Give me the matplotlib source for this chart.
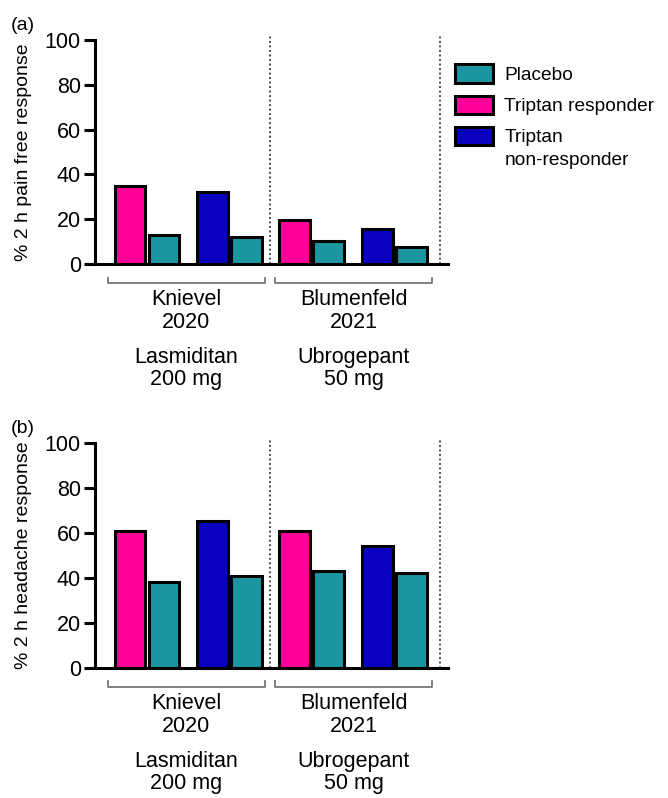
import matplotlib
matplotlib.use('Agg')
import matplotlib.pyplot as plt
from matplotlib.patches import Patch
from matplotlib.transforms import blended_transform_factory

plt.rcParams['font.family'] = ['Liberation Sans', 'DejaVu Sans']

# bar order inside each study: triptan responder, placebo, triptan non-responder, placebo
bar_groups = ['Triptan responder', 'Placebo', 'Triptan non-responder', 'Placebo',
              'Triptan responder', 'Placebo', 'Triptan non-responder', 'Placebo']
pain_free = [35, 13, 32, 12, 19.5, 10.5, 15.5, 7.5]
headache = [61, 38, 65.5, 41, 61, 43, 54, 42]

studies = ['Knievel\n2020', 'Blumenfeld\n2021']
drugs = ['Lasmiditan\n200 mg', 'Ubrogepant\n50 mg']
ylabels = ['% 2 h pain free response', '% 2 h headache response']
panel_tags = ['(a)', '(b)']

colors = {'Placebo': '#1b96a0', 'Triptan responder': '#ff0098', 'Triptan non-responder': '#0a00bf'}

x_pos = [0, 1, 2.42, 3.42, 4.83, 5.83, 7.28, 8.28]
dividers = [4.12, 9.12]
bracket_spans = [(-0.65, 3.97), (4.26, 8.88)]

fig = plt.figure(figsize=(6.68, 7.98), dpi=100)
ax_a = fig.add_axes([0.142, 0.669, 0.529, 0.281])
ax_b = fig.add_axes([0.142, 0.163, 0.529, 0.282])

for ax, values, ylab, tag in zip([ax_a, ax_b], [pain_free, headache], ylabels, panel_tags):
    ax.bar(x_pos, values, width=0.9, color=[colors[g] for g in bar_groups],
           edgecolor='black', linewidth=2.2, zorder=3)
    for d in dividers:
        ax.axvline(d, ymin=0, ymax=1.02, color='#333333', linestyle=(0, (1, 1.5)),
                   linewidth=1.3, clip_on=False)
    ax.set_xlim(-1.03, 9.35)
    ax.set_ylim(0, 100)
    ax.set_yticks(range(0, 101, 20))
    ax.set_xticks([])
    ax.spines['top'].set_visible(False)
    ax.spines['right'].set_visible(False)
    ax.spines['left'].set_linewidth(2.2)
    ax.spines['bottom'].set_linewidth(2.2)
    ax.spines['bottom'].set_bounds(-1.25, 9.35)
    ax.tick_params(axis='y', width=2.2, length=8, labelsize=15.5, pad=2)
    ax.set_ylabel(ylab, fontsize=14, labelpad=6)
    ax.yaxis.set_label_coords(-0.178, 0.5)
    ax.text(-0.205, 1.065, tag, transform=ax.transAxes, fontsize=14, ha='center', va='center')

    trans = blended_transform_factory(ax.transData, ax.transAxes)
    for (x0, x1), study, drug in zip(bracket_spans, studies, drugs):
        ax.plot([x0, x0, x1, x1], [-0.06, -0.085, -0.085, -0.06], color='#777777',
                linewidth=1.3, transform=trans, clip_on=False)
        xc = (x0 + x1) / 2
        ax.text(xc, -0.21, study, transform=trans, ha='center', va='center',
                fontsize=15.5, linespacing=1.1)
        ax.text(xc, -0.465, drug, transform=trans, ha='center', va='center',
                fontsize=15.5, linespacing=1.1)

handles = [Patch(facecolor=colors[k], edgecolor='black', linewidth=2.2) for k in
           ['Placebo', 'Triptan responder', 'Triptan non-responder']]
labels = ['Placebo', 'Triptan responder', 'Triptan']
leg = fig.legend(handles, labels, loc='upper left', bbox_to_anchor=(0.656, 0.941), frameon=False,
                 fontsize=13.8, handlelength=1.95, handleheight=1.1, handletextpad=0.6,
                 labelspacing=0.6)

# second line of the last legend entry, set under "Triptan"
fig.canvas.draw()
bb = leg.get_texts()[2].get_window_extent()
fig.text(bb.x0 / fig.bbox.width, (bb.y0 - 23) / fig.bbox.height, 'non-responder',
         fontsize=13.8, ha='left', va='bottom')

fig.savefig('out.png', dpi=100)
